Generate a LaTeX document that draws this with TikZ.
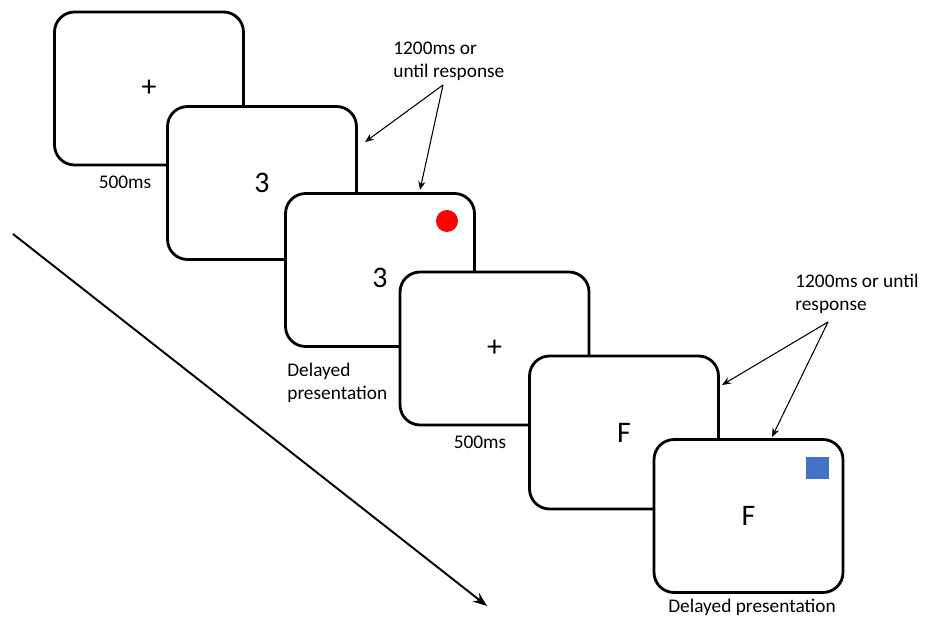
\documentclass[tikz,border=0pt]{standalone}
\usepackage{fontspec}
\setmainfont{Carlito}
\usetikzlibrary{arrows.meta}
\tikzset{
  screen/.style={draw, line width=1.6pt, rounded corners=0.4cm, fill=white,
    minimum width=3.78cm, minimum height=3.06cm, font=\fontsize{17}{20}\selectfont},
  note/.style={font=\fontsize{11}{13}\selectfont, align=left, inner sep=0pt},
  pointer/.style={-{Stealth[length=5pt,width=4pt]}, line width=0.6pt}
}
\begin{document}
\begin{tikzpicture}[x=0.02cm,y=-0.02cm]
  \useasboundingbox (0,0) rectangle (925,617);
  % 屏幕序列（后画的压在前面）
  \node[screen] (s1) at (149,88.5)  {+};
  \node[screen] (s2) at (262,183)   {3};
  \node[screen, label={[font=\fontsize{17}{20}\selectfont, yshift=-0.16cm]center:3}] (s3) at (380,270) {};
  \node[screen] (s4) at (494.5,348.5) {+};
  \node[screen] (s5) at (624,432.5) {F};
  \node[screen] (s6) at (748.5,516) {F};
  % 提示标记
  \node[circle, fill=red, inner sep=0pt, minimum size=0.44cm] (dot) at (447,221) {};
  \node[rectangle, fill={rgb,255:red,68;green,114;blue,196}, inner sep=0pt, minimum size=0.46cm] (sq) at (817,468) {};
  % 时间标注
  \node[note] (t1) at (125,182) {500ms};
  \node[note] (t4) at (480,442) {500ms};
  \node[note, anchor=north west] (d3) at (287,363) {Delayed\\presentation};
  \node[note] (d6) at (752,607) {Delayed presentation};
  \node[note, anchor=north west] (r1) at (393,42) {1200ms or\\until response};
  \node[note, anchor=north west] (r2) at (795,274) {1200ms or until\\response};
  % 引线箭头
  \coordinate (r1tip) at (443,85);
  \coordinate (a1) at (365,142);
  \coordinate (a2) at (420,190);
  \draw[pointer] (r1tip) -- (a1);
  \draw[pointer] (r1tip) -- (a2);
  \coordinate (r2tip) at (828,322);
  \coordinate (b1) at (722,385);
  \coordinate (b2) at (772,437);
  \draw[pointer] (r2tip) -- (b1);
  \draw[pointer] (r2tip) -- (b2);
  % 时间轴
  \coordinate (tstart) at (13,234);
  \coordinate (tend) at (487,606);
  \draw[-{Stealth[length=8pt,width=6pt]}, line width=1.1pt] (tstart) -- (tend);
\end{tikzpicture}
\end{document}
